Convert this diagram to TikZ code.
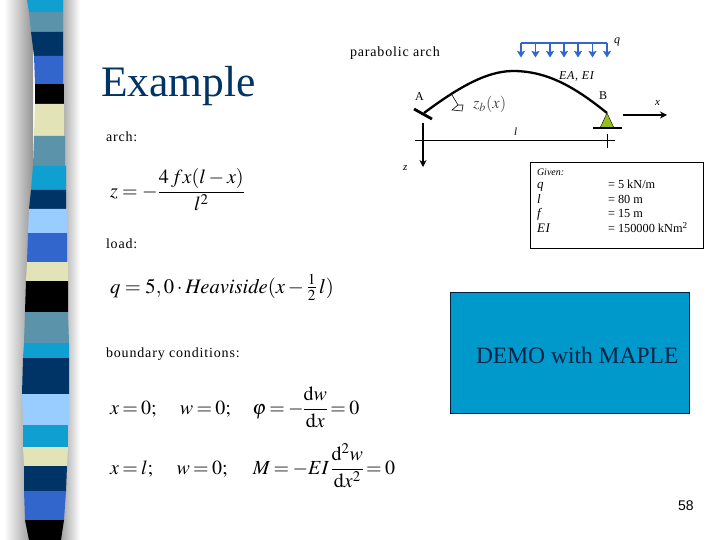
\documentclass[tikz,border=0pt]{standalone}
\usepackage{amsmath}
\usepackage{mathptmx}
\usepackage[no-math]{fontspec}
\usetikzlibrary{arrows.meta}
\setmainfont{Liberation Serif}
\setsansfont{Liberation Sans}
\newfontfamily\spacedfont[LetterSpace=6]{Liberation Serif}
\definecolor{stripecyan}{HTML}{0F9FD0}
\definecolor{stripesteel}{HTML}{5B93AB}
\definecolor{stripenavy}{HTML}{003366}
\definecolor{stripeblue}{HTML}{3366CC}
\definecolor{stripecream}{HTML}{E3E3B8}
\definecolor{stripelight}{HTML}{99CCFF}
\definecolor{stripeblack}{HTML}{000000}
\definecolor{supportgreen}{HTML}{9ABB1F}
\definecolor{demofill}{HTML}{0099CC}
\newcommand{\fsz}[1]{\fontsize{#1}{#1}\selectfont}
\tikzset{
	txt/.style={anchor=base west,inner sep=0pt,outer sep=0pt},
	plainlbl/.style={txt,font=\fsz{14}\spacedfont},
	smalllbl/.style={txt,font=\fsz{11}\spacedfont\itshape},
	givenlbl/.style={txt,font=\fsz{12.3}},
	formula/.style={txt,font=\fsz{20}},
	barline/.style={line width=2.8pt,black},
	arrowline/.style={line width=1.5pt,-{Stealth[length=7pt,width=7pt]}},
	loadarrow/.style={line width=1.2pt,stripeblue,-{Stealth[length=6.5pt,width=8pt,inset=1pt]}},
}
\begin{document}
\begin{tikzpicture}[x=1pt,y=-1pt]
	\useasboundingbox (0,0) rectangle (720,540);

	% shadow of the band
	\shade[left color=white,right color=black!42] (4,0) rectangle (33,540);
	\shade[left color=black!38,right color=white] (60,0) rectangle (80,540);

	% band
	\foreach \ya/\la/\ra/\yb/\lb/\rb/\col in {
		0/27/63/12/29/63/stripecyan,
		12/29/63/32/31/63/stripesteel,
		32/31/63/56/34/63/stripenavy,
		56/34/63/84/35/63/stripeblue,
		84/35/64/104/35/64/stripeblack,
		104/35/64/136/34/64/stripecream,
		136/34/65/166/33/65/stripesteel,
		166/33/66/190/31/66/stripecyan,
		190/31/66/209/29/66/stripenavy,
		209/29/67/233/28/67/stripelight,
		233/28/67/262/27/67/stripeblue,
		262/27/68/281/26/68/stripecream,
		281/26/68/312/25/68/stripeblack,
		312/25/68/343/24/69/stripesteel,
		343/24/69/358/23/69/stripecyan,
		358/23/69/394/22/69/stripenavy,
		394/22/69/425/23/69/stripelight,
		425/23/68/447/23/68/stripecyan,
		447/23/68/466/24/67/stripecream,
		466/24/67/491/24/66/stripenavy,
		491/24/66/520/25/64/stripeblue,
		520/25/64/540/29/61/stripeblack} {
		\fill[\col] (\la,\ya) -- (\ra,\ya) -- (\rb,\yb) -- (\lb,\yb) -- cycle;
	}

	% texts on the left
	\node[txt,font=\fsz{43.5},text=stripenavy] (title) at (101, 97) {Example};
	\node[plainlbl] (archlbl) at (106, 142) {arch:};
	\node[plainlbl] (loadlbl) at (106, 248) {load:};
	\node[plainlbl] (bclbl) at (106, 357) {boundary conditions:};
	\node[formula] (fz) at (110, 197) {$z=-\dfrac{4\,fx(l-x)}{l^2}$};
	\node[formula,font=\fsz{20.6}] (fq) at (110, 293) {$\thickmuskip=4mu q=5,0\cdot \mathit{Heaviside}(x-\tfrac{1}{2}\,l)$};
	\node[formula] (fa) at (110, 414) {$\thickmuskip=3mu \nulldelimiterspace=0pt x=0;\hspace{1.05em} w=0;\hspace{.95em} \varphi=-\dfrac{\mathrm{d}w}{\mathrm{d}x}=0$};
	\node[formula] (fb) at (110, 474) {$\thickmuskip=3mu \nulldelimiterspace=0pt x=l;\hspace{1.05em} w=0;\hspace{1.15em} M=-EI\,\dfrac{\mathrm{d}^2w}{\mathrm{d}x^2}=0$};

	% arch
	\coordinate (A) at (424, 113);
	\coordinate (top) at (513, 71);
	\coordinate (B) at (607, 113);
	\draw[line width=2.3pt] (A) .. controls (455, 90) and (485, 71) .. (top) .. controls (548, 71) and (576, 88) .. (B);
	\coordinate (Aa) at (414, 109);
	\coordinate (Ab) at (432, 119);
	\draw[barline] (Aa) -- (Ab);
	\coordinate (Ba) at (600, 128);
	\coordinate (Bb) at (614, 128);
	\fill[supportgreen] (B) -- (Bb) -- (Ba) -- cycle;
	\draw[black,line width=.4pt] (B) -- (Bb) (B) -- (Ba);
	\coordinate (Bc) at (593, 128);
	\coordinate (Bd) at (622, 128);
	\draw[barline] (Bc) -- (Bd);

	% load
	\coordinate (qa) at (521, 43);
	\coordinate (qb) at (607, 43);
	\draw[stripeblue,line width=1.1pt] (qa) -- (qb);
	\foreach \xq [count=\i] in {521,535.5,550,564,578,592.5,607} {
		\coordinate (qt\i) at (\xq, 43);
		\coordinate (qe\i) at (\xq, 57.5);
		\draw[loadarrow] (qt\i) -- (qe\i);
	}

	% axes
	\coordinate (xa) at (623, 115);
	\coordinate (xb) at (667, 115);
	\draw[arrowline] (xa) -- (xb);
	\coordinate (za) at (423, 123);
	\coordinate (zb) at (423, 167);
	\draw[arrowline] (za) -- (zb);
	\coordinate (la) at (415, 140);
	\coordinate (lb) at (615, 140);
	\draw[line width=.6pt] (la) -- (lb);
	\coordinate (ta) at (607, 134);
	\coordinate (tb) at (607, 148);
	\draw[line width=.6pt] (ta) -- (tb);

	% angle mark
	\coordinate (ma) at (452, 95);
	\coordinate (mb) at (458, 105);
	\coordinate (mc) at (452, 110);
	\coordinate (md) at (462, 111);
	\coordinate (me) at (463, 105);
	\draw[line width=.6pt] (ma) -- (mb) -- (mc) -- (md) -- (me) -- (mb);

	% labels of the arch
	\node[txt,font=\fsz{14}\spacedfont] (titlearch) at (350, 57) {parabolic arch};
	\node[smalllbl,font=\fsz{12}\spacedfont\itshape] (lq) at (614, 44) {q};
	\node[smalllbl,font=\fsz{12}\spacedfont\itshape] (lea) at (559, 80) {EA, EI};
	\node[txt,font=\fsz{12}] (lA) at (415, 101) {A};
	\node[txt,font=\fsz{12}] (lB) at (599, 100) {B};
	\node[smalllbl] (lx) at (655, 106) {x};
	\node[smalllbl] (ll) at (514, 136) {l};
	\node[smalllbl] (lz) at (403, 171) {z};
	\node[txt,font=\fsz{16.5},text=black!70] (lzb) at (473, 109) {$z_b(x)$};

	% given
	\node[draw=black,line width=.8pt,anchor=north west,minimum width=173pt,minimum height=86pt,inner sep=0pt] (givenbox) at (530, 162) {};
	\node[smalllbl,font=\fsz{10}\itshape] (g0) at (537, 176) {Given:};
	\node[givenlbl,font=\fsz{13}\spacedfont\itshape] (g1) at (537, 189) {q};
	\node[givenlbl,font=\fsz{13}\spacedfont\itshape] (g2) at (537, 204) {l};
	\node[givenlbl,font=\fsz{13}\spacedfont\itshape] (g3) at (537, 218) {f};
	\node[givenlbl,font=\fsz{13}\spacedfont\itshape] (g4) at (537, 233) {EI};
	\node[givenlbl] (v1) at (608, 189) {= 5 kN/m};
	\node[givenlbl] (v2) at (608, 204) {= 80 m};
	\node[givenlbl] (v3) at (608, 218) {= 15 m};
	\node[givenlbl] (v4) at (608, 233) {= 150000 kNm\textsuperscript{2}};

	% demo
	\node[draw=stripenavy!60!black,fill=demofill,line width=.8pt,anchor=north west,minimum width=239pt,minimum height=121pt,inner sep=0pt] (demo) at (450, 292) {};
	\node[txt,font=\fsz{23.5},text=stripenavy!70!black] (demotxt) at (476, 363) {DEMO with MAPLE};
	\node[txt,font=\fsz{14}\sffamily] (page) at (678, 510) {58};
\end{tikzpicture}
\end{document}
